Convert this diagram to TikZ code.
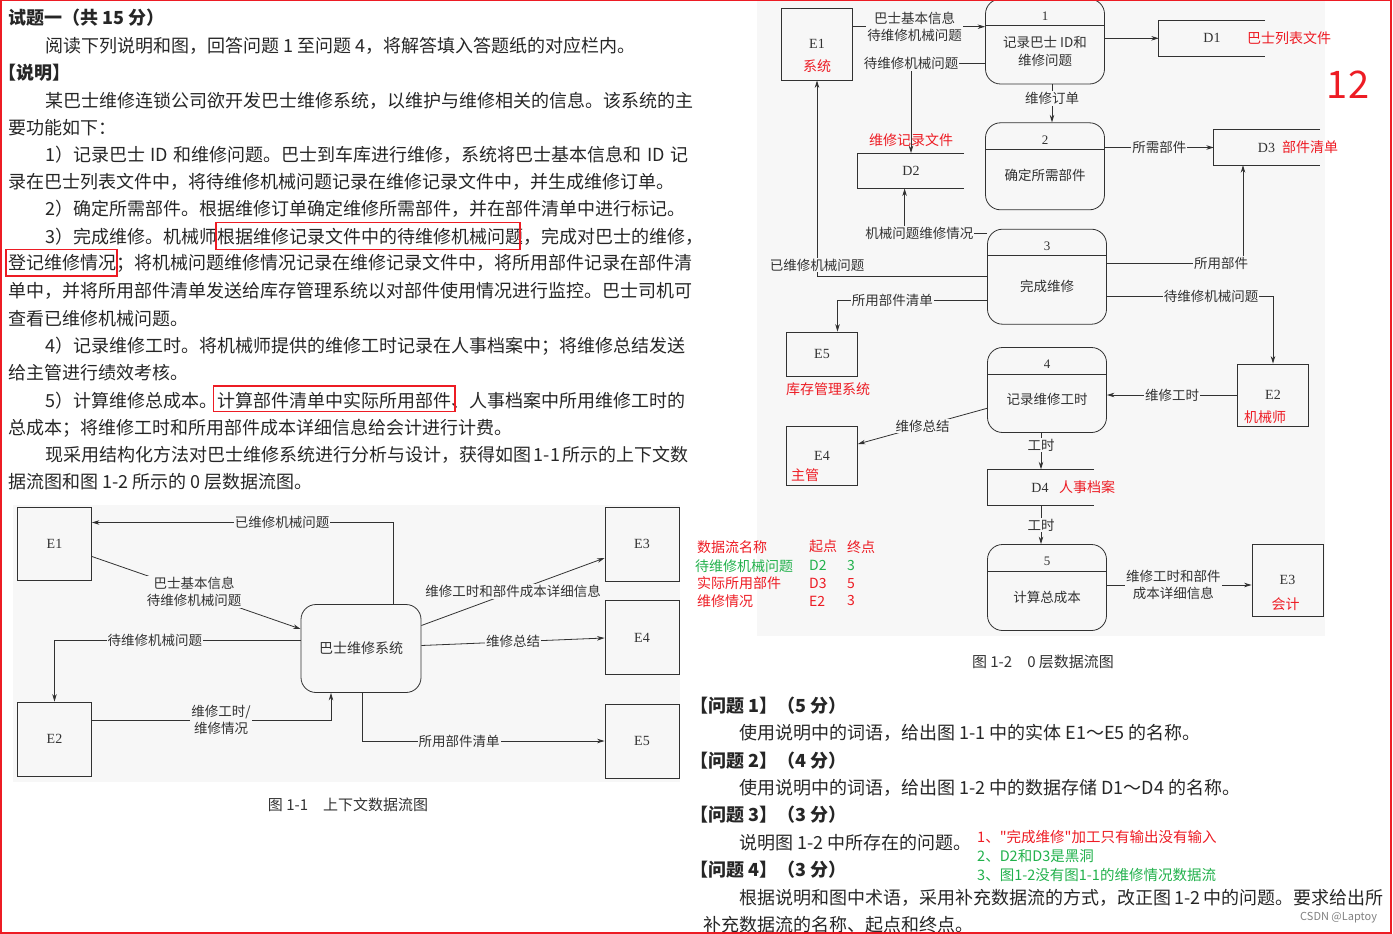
\documentclass[tikz,border=0pt]{standalone}
\usepackage{fontspec}
\setmainfont{Noto Sans CJK SC}
\newfontfamily\annofont{Noto Sans CJK SC}
\newfontfamily\latserif{Liberation Serif}
\usetikzlibrary{arrows.meta,positioning}
\XeTeXlinebreaklocale "zh"
\XeTeXlinebreakskip=0pt plus 4pt minus 0.6pt
\definecolor{annored}{RGB}{237,28,36}
\definecolor{annogreen}{RGB}{34,177,76}
\definecolor{figbg}{RGB}{247,247,247}
\definecolor{ink}{RGB}{50,50,50}

\begin{document}
\begin{tikzpicture}[x=1pt,y=-1pt,
  >={Stealth[length=7.5pt,width=4.5pt]},
  body/.style={anchor=west,inner sep=0,font=\fontsize{18}{21}\selectfont,text=black!85},
  anno/.style={anchor=west,inner sep=0,font=\annofont\fontsize{14}{16}\selectfont},
  ent/.style={draw=ink,line width=0.8pt,inner sep=0,font=\latserif\fontsize{14}{16}\selectfont,text=ink},
  proc/.style={draw=ink,line width=0.8pt,rounded corners=15pt,minimum width=119pt,inner sep=0},
  store/.style={minimum width=106pt,minimum height=35pt,inner sep=0},
  flow/.style={->,draw=ink,line width=0.8pt},
  lbl/.style={fill=figbg,inner xsep=1pt,inner ysep=1pt,font=\fontsize{13.5}{17.5}\selectfont,text=ink},
  redname/.style={inner sep=0,font=\fontsize{14}{16}\selectfont,text=annored}]
  \useasboundingbox (0,0) rectangle (1393,934);

  % Shade the two figures
  \fill[figbg] (13,505) rectangle (680,782);
  \fill[figbg] (757,0) rectangle (1325,636);

  % Left column text
  \node[body,font=\fontsize{18}{21}\selectfont\bfseries] (t1) at (8,18) {试题一（共 15 分）};
  \node[body] (t2) at (45,46) {阅读下列说明和图，回答问题 1 至问题 4，将解答填入答题纸的对应栏内。};
  \node[body,font=\fontsize{18}{21}\selectfont\bfseries] (t3) at (-2,73) {【说明】};
  \node[body] (t4) at (45,100.5) {\makebox[643pt][s]{某巴士维修连锁公司欲开发巴士维修系统，以维护与维修相关的信息。该系统的主}};
  \node[body] (t5) at (8,128) {要功能如下：};
  \node[body] (t6) at (45,155) {\makebox[643pt][s]{1）记录巴士 ID 和维修问题。巴士到车库进行维修，系统将巴士基本信息和 ID 记}};
  \node[body] (t7) at (8,182) {\makebox[680pt][s]{录在巴士列表文件中，将待维修机械问题记录在维修记录文件中，并生成维修订单。}};
  \node[body] (t8) at (45,209) {2）确定所需部件。根据维修订单确定维修所需部件，并在部件清单中进行标记。};
  \node[body] (t9) at (45,236.5) {\makebox[643pt][s]{3）完成维修。机械师根据维修记录文件中的待维修机械问题，完成对巴士的维修，}};
  \node[body] (t10) at (8,263.5) {\makebox[680pt][s]{登记维修情况；将机械问题维修情况记录在维修记录文件中，将所用部件记录在部件清}};
  \node[body] (t11) at (8,291) {\makebox[680pt][s]{单中，并将所用部件清单发送给库存管理系统以对部件使用情况进行监控。巴士司机可}};
  \node[body] (t12) at (8,318.5) {查看已维修机械问题。};
  \node[body] (t13) at (45,346) {\makebox[643pt][s]{4）记录维修工时。将机械师提供的维修工时记录在人事档案中；将维修总结发送}};
  \node[body] (t14) at (8,373) {给主管进行绩效考核。};
  \node[body] (t15) at (45,400.5) {\makebox[643pt][s]{5）计算维修总成本。计算部件清单中实际所用部件、人事档案中所用维修工时的}};
  \node[body] (t16) at (8,428) {总成本；将维修工时和所用部件成本详细信息给会计进行计费。};
  \node[body] (t17) at (45,455) {\makebox[643pt][s]{现采用结构化方法对巴士维修系统进行分析与设计，获得如图 1-1 所示的上下文数}};
  \node[body] (t18) at (8,482) {据流图和图 1-2 所示的 0 层数据流图。};

  % Red marks in the text
  \draw[annored,line width=1.4pt] (216,222.5) rectangle (520,249.5);
  \draw[annored,line width=1.4pt] (6,249.5) rectangle (117,276);
  \draw[annored,line width=1.4pt] (213.5,386) rectangle (455,411.5);

  % Figure 1-1: context diagram
  \node[ent,minimum width=74pt,minimum height=73pt] (E1a) at (54.5,543.5) {E1};
  \node[ent,minimum width=74pt,minimum height=74pt] (E2a) at (54.5,739) {E2};
  \node[ent,minimum width=74pt,minimum height=74pt] (E3a) at (642,544) {E3};
  \node[ent,minimum width=74pt,minimum height=74pt] (E4a) at (642,637.5) {E4};
  \node[ent,minimum width=74pt,minimum height=74pt] (E5a) at (642,741) {E5};
  \node[proc,minimum width=120pt,minimum height=88pt,font=\fontsize{14}{16}\selectfont,text=ink] (Sys) at (361,648.5) {巴士维修系统};

  \draw[flow] ([xshift=32pt]Sys.north) |- ([yshift=21pt]E1a.east) node[lbl,pos=0.684] {已维修机械问题};
  \draw[flow] ([yshift=-13pt]E1a.east) -- ([yshift=19.5pt]Sys.west) node[lbl,pos=0.49,align=center] {巴士基本信息\\待维修机械问题};
  \draw[flow] ([yshift=8.5pt]Sys.west) -| (E2a.north) node[lbl,pos=0.296] {待维修机械问题};
  \draw[flow] ([yshift=19pt]E2a.east) -| ([xshift=-30pt]Sys.south) node[lbl,pos=0.27,align=center] {维修工时/\\维修情况};
  \draw[flow] ([yshift=23pt]Sys.east) -- ([yshift=-14pt]E3a.west) node[lbl,midway] {维修工时和部件成本详细信息};
  \draw[flow] ([yshift=3pt]Sys.east) -- ([yshift=-0.5pt]E4a.west) node[lbl,midway] {维修总结};
  \draw[flow] ([xshift=1pt]Sys.south) |- (E5a.west) node[lbl,pos=0.70] {所用部件清单};

  \node[font=\fontsize{15}{17}\selectfont,text=ink] (cap1) at (348,805) {图 1-1\hspace{1em}上下文数据流图};

  % Figure 1-2: level 0 diagram
  \foreach \n/\cx/\cy/\h/\txt in {1/1045/41.5/85/{记录巴士 ID和\\维修问题},2/1045/166.3/87/确定所需部件,3/1047/276.7/95/完成维修,4/1047/390/85/记录维修工时,5/1047/587.5/86/计算总成本}{
    \node[proc,minimum height=\h pt] (P\n) at (\cx,\cy) {};
    \draw[ink,line width=0.8pt] ([yshift=-27pt]P\n.north west) -- ([yshift=-27pt]P\n.north east);
    \node[inner sep=0,font=\latserif\fontsize{13}{15}\selectfont,text=ink] (P\n-num) at ([yshift=-17.5pt]P\n.north) {\n};
    \node[inner sep=0,align=center,font=\fontsize{13.5}{18}\selectfont,text=ink] (P\n-txt) at ([yshift=-9.5pt]P\n.center) {\txt};
  }

  \node[ent,minimum width=71.5pt,minimum height=72pt] (E1b) at (817,44) {E1};
  \node[ent,minimum width=71pt,minimum height=62pt] (E2b) at (1273,395) {E2};
  \node[ent,minimum width=71pt,minimum height=72pt] (E3b) at (1287.5,580) {E3};
  \node[ent,minimum width=71pt,minimum height=59pt] (E4b) at (822,455.7) {E4};
  \node[ent,minimum width=71pt,minimum height=44pt] (E5b) at (822,354) {E5};
  \node[redname] (E1b-name) at ([yshift=-22pt]E1b.center) {系统};
  \node[redname] (E2b-name) at ([xshift=-8pt,yshift=-21.7pt]E2b.center) {机械师};
  \node[redname] (E3b-name) at ([xshift=-2pt,yshift=-24pt]E3b.center) {会计};
  \node[redname] (E4b-name) at ([xshift=-17pt,yshift=-19.6pt]E4b.center) {主管};
  \node[redname] (E5b-name) at ([xshift=6pt,yshift=-35pt]E5b.center) {库存管理系统};

  \node[store] (D1) at (1212,38.3) {};
  \node[store] (D2) at (911,170.8) {};
  \node[store] (D3) at (1267,147.5) {};
  \node[store,minimum height=36pt] (D4) at (1041,487.5) {};
  \foreach \d in {D1,D2,D3,D4}
    \draw[ink,line width=0.8pt] (\d.north east) -- (\d.north west) -- (\d.south west) -- (\d.south east);
  \node[inner sep=0,font=\latserif\fontsize{14}{16}\selectfont,text=ink] (D1-id) at (D1) {D1};
  \node[inner sep=0,font=\latserif\fontsize{14}{16}\selectfont,text=ink] (D2-id) at (D2) {D2};
  \node[inner sep=0,font=\latserif\fontsize{14}{16}\selectfont,text=ink] (D3-id) at ([xshift=-0.5pt]D3.center) {D3};
  \node[inner sep=0,font=\latserif\fontsize{14}{16}\selectfont,text=ink] (D4-id) at ([xshift=-1pt]D4.center) {D4};
  \node[redname] (D1-name) at ([xshift=77pt]D1.center) {巴士列表文件};
  \node[redname] (D2-name) at ([yshift=13pt]D2.north) {维修记录文件};
  \node[redname] (D3-name) at ([xshift=43pt]D3.center) {部件清单};
  \node[redname] (D4-name) at ([xshift=46pt]D4.center) {人事档案};

  \coordinate (e1b-out) at ([yshift=17.3pt]E1b.east);
  \coordinate (p5-out) at ([yshift=2.5pt]P5.east);
  \draw[flow] (e1b-out) -- (e1b-out -| P1.west) node[lbl,pos=0.465,align=center] {巴士基本信息\\待维修机械问题};
  \draw[flow] (P1.east |- D1.west) -- (D1.west);
  \draw[flow] ([yshift=-21.8pt]P1.west) -| (D2.north) node[lbl,pos=0.5] {待维修机械问题};
  \draw[flow] ([xshift=7pt]P1.south) -- ([xshift=7pt]P2.north) node[lbl,pos=0.37] {维修订单};
  \draw[flow] (P2.east |- D3.west) -- (D3.west) node[lbl,midway] {所需部件};
  \draw[flow] ([yshift=43.4pt]P3.west) -| ([xshift=-6.4pt]D2.south) node[lbl,pos=0.41] {机械问题维修情况};
  \draw[flow] (P3.west) -| (E1b.south) node[lbl,pos=0.53] {已维修机械问题};
  \draw[flow] ([yshift=-23.3pt]P3.west) -| ([xshift=15.5pt]E5b.north) node[lbl,pos=0.317] {所用部件清单};
  \draw[flow] ([yshift=13.4pt]P3.east) -| ([xshift=-24pt]D3.south) node[lbl,pos=0.42] {所用部件};
  \draw[flow] ([yshift=-19.3pt]P3.east) -| (E2b.north) node[lbl,pos=0.314] {待维修机械问题};
  \draw[flow] (E2b.west) -- (E2b.west -| P4.east) node[lbl,midway] {维修工时};
  \draw[flow] ([yshift=-18.3pt]P4.west) -- ([yshift=11.7pt]E4b.east) node[lbl,midway] {维修总结};
  \draw[flow] (P4.south -| D4.north) -- (D4.north) node[lbl,pos=0.34] {工时};
  \draw[flow] (D4.south) -- (D4.south |- P5.north) node[lbl,midway] {工时};
  \draw[flow] (p5-out) -- (p5-out -| E3b.west) node[lbl,pos=0.46,align=center] {维修工时和部件\\成本详细信息};

  % Answer table
  \foreach \i/\name/\from/\to/\col/\y/\nx in {h/数据流名称/起点/终点/annored/546.7/697,
      r1/待维修机械问题/D2/3/annogreen/565.7/695,
      r2/实际所用部件/D3/5/annored/583.3/697,
      r3/维修情况/E2/3/annored/601/697}{
    \node[anno,text=\col] (tab-\i-a) at (\nx,\y) {\name};
    \node[anno,text=\col] (tab-\i-b) at (809,\y) {\from};
    \node[anno,text=\col] (tab-\i-c) at (847,\y) {\to};
  }

  \node[font=\fontsize{15}{17}\selectfont,text=ink] (cap2) at (1043,662) {图 1-2\hspace{1em}0 层数据流图};
  \node[inner sep=0,font=\fontsize{38}{40}\selectfont,text=annored] (page) at (1348,85) {12};

  % Questions
  \node[body,font=\fontsize{18}{21}\selectfont\bfseries] (q1) at (690,706) {【问题 1】（5 分）};
  \node[body] (q1t) at (739,733.3) {使用说明中的词语，给出图 1-1 中的实体 E1～E5 的名称。};
  \node[body,font=\fontsize{18}{21}\selectfont\bfseries] (q2) at (690,760.5) {【问题 2】（4 分）};
  \node[body] (q2t) at (739,788) {使用说明中的词语，给出图 1-2 中的数据存储 D1～D4 的名称。};
  \node[body,font=\fontsize{18}{21}\selectfont\bfseries] (q3) at (690,815) {【问题 3】（3 分）};
  \node[body] (q3t) at (739,843) {说明图 1-2 中所存在的问题。};
  \node[body,font=\fontsize{18}{21}\selectfont\bfseries] (q4) at (690,870) {【问题 4】（3 分）};
  \node[body] (q4t) at (739,897.5) {\makebox[644pt][s]{根据说明和图中术语，采用补充数据流的方式，改正图 1-2 中的问题。要求给出所}};
  \node[body] (q4t2) at (703,925) {补充数据流的名称、起点和终点。};

  \node[anno,font=\annofont\fontsize{14.5}{16}\selectfont,text=annored] (ans1) at (977,836.7) {1、"完成维修"加工只有输出没有输入};
  \node[anno,font=\annofont\fontsize{14.5}{16}\selectfont,text=annogreen] (ans2) at (977,856) {2、D2和D3是黑洞};
  \node[anno,font=\annofont\fontsize{14.5}{16}\selectfont,text=annogreen] (ans3) at (977,875) {3、图1-2没有图1-1的维修情况数据流};
  \node[anno,font=\annofont\fontsize{11}{13}\selectfont,text=gray] (mark) at (1300,917.5) {CSDN @Laptoy};

  % Frame
  \draw[annored,line width=1.5pt] (0.75,0.75) rectangle (1391,933);
\end{tikzpicture}
\end{document}
